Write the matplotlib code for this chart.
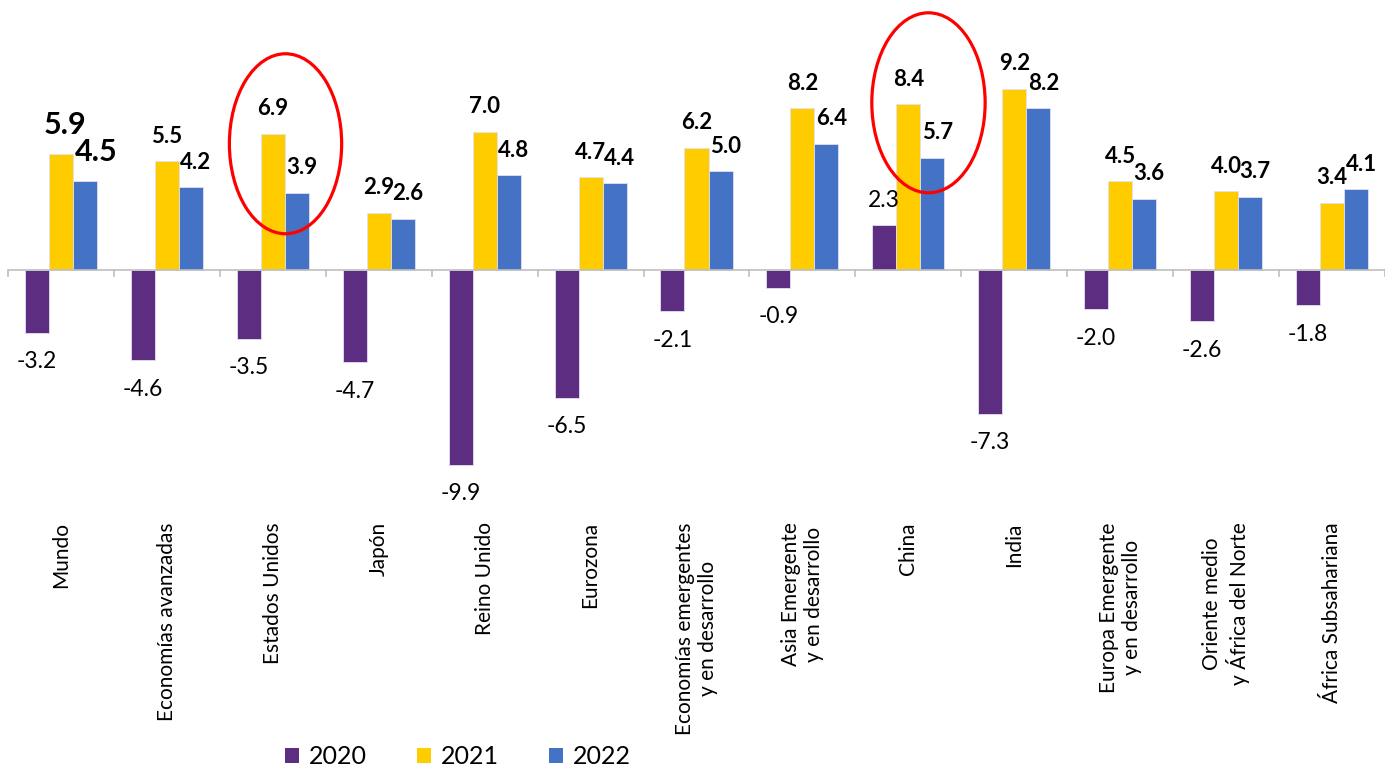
import matplotlib.pyplot as plt
from matplotlib.patches import Patch, Ellipse
import numpy as np

plt.rcParams["font.family"] = ["Lato", "DejaVu Sans"]

categories = [
    "Mundo", "Economías avanzadas", "Estados Unidos", "Japón", "Reino Unido",
    "Eurozona", "Economías emergentes\ny en desarrollo",
    "Asia Emergente\ny en desarrollo", "China", "India",
    "Europa Emergente\ny en desarrollo", "Oriente medio\ny África del Norte",
    "África Subsahariana",
]
years = ["2020", "2021", "2022"]
vals_2020 = [-3.2, -4.6, -3.5, -4.7, -9.9, -6.5, -2.1, -0.9, 2.3, -7.3, -2.0, -2.6, -1.8]
vals_2021 = [5.9, 5.5, 6.9, 2.9, 7.0, 4.7, 6.2, 8.2, 8.4, 9.2, 4.5, 4.0, 3.4]
vals_2022 = [4.5, 4.2, 3.9, 2.6, 4.8, 4.4, 5.0, 6.4, 5.7, 8.2, 3.6, 3.7, 4.1]

colors = ["#5C2D80", "#FFCC00", "#4472C4"]

W, H = 1385, 769
fig = plt.figure(figsize=(W / 100, H / 100), dpi=100)
ax = fig.add_axes([8 / W, 1 - 514 / H, 1377 / W, 514 / H])

x = np.arange(len(categories))
bw = 0.227
series = [vals_2020, vals_2021, vals_2022]
for i, (vals, c) in enumerate(zip(series, colors)):
    ax.bar(x + (i - 1) * bw, vals, bw, color=c, edgecolor="#e4e0f0", linewidth=0.6, zorder=2)

# value labels (points = px * 0.72 at 100 dpi)
for j in range(len(categories)):
    v = vals_2020[j]
    dy = -29 if v < 0 else 24
    ax.annotate(f"{v:.1f}", (x[j] - bw, v), xytext=(0, dy * 0.72), textcoords="offset points",
                ha="center", va="center", fontsize=16.5, color="black")
    big = j == 0
    fs = 22 if big else 16
    for k, (vals, dx) in enumerate([(vals_2021, 4 if big else 0), (vals_2022, 11 if big else 5)]):
        v = vals[j]
        ax.annotate(f"{v:.1f}", (x[j] + k * bw, v), xytext=(dx * 0.72, (29 if big else 25) * 0.72),
                    textcoords="offset points", ha="center", va="center",
                    fontsize=fs, fontweight="bold", color="black")

# zero line and category tick marks
ax.axhline(0, color="#BFBFBF", linewidth=1.2, zorder=3)
for b in np.arange(len(categories) + 1) - 0.5:
    ax.plot([b, b], [0, -0.33], color="#BFBFBF", linewidth=1.2, zorder=3, clip_on=False)

# highlight ellipses
ax.add_patch(Ellipse((2.12, 6.4), 1.06, 9.14, fill=False, edgecolor="red", linewidth=2.3, zorder=4))
ax.add_patch(Ellipse((8.19, 8.48), 1.07, 9.14, fill=False, edgecolor="red", linewidth=2.3, zorder=4))

ax.set_xlim(-0.5, len(categories) - 0.5)
ax.set_ylim(-12.4, 13.7)
ax.set_xticks(x)
ax.set_xticklabels(categories, rotation=90, fontsize=15, va="top", ha="center", multialignment="center")
ax.tick_params(axis="x", length=0, pad=6)
ax.set_yticks([])
for s in ax.spines.values():
    s.set_visible(False)

handles = [Patch(facecolor=c, edgecolor="none") for c in colors]
fig.legend(handles, years, loc="center", bbox_to_anchor=(458 / W, 1 - 757 / H), ncol=3,
           frameon=False, fontsize=18, handlelength=0.55, handleheight=0.55,
           handletextpad=0.4, columnspacing=2.0)

fig.savefig("out.png", dpi=100)
